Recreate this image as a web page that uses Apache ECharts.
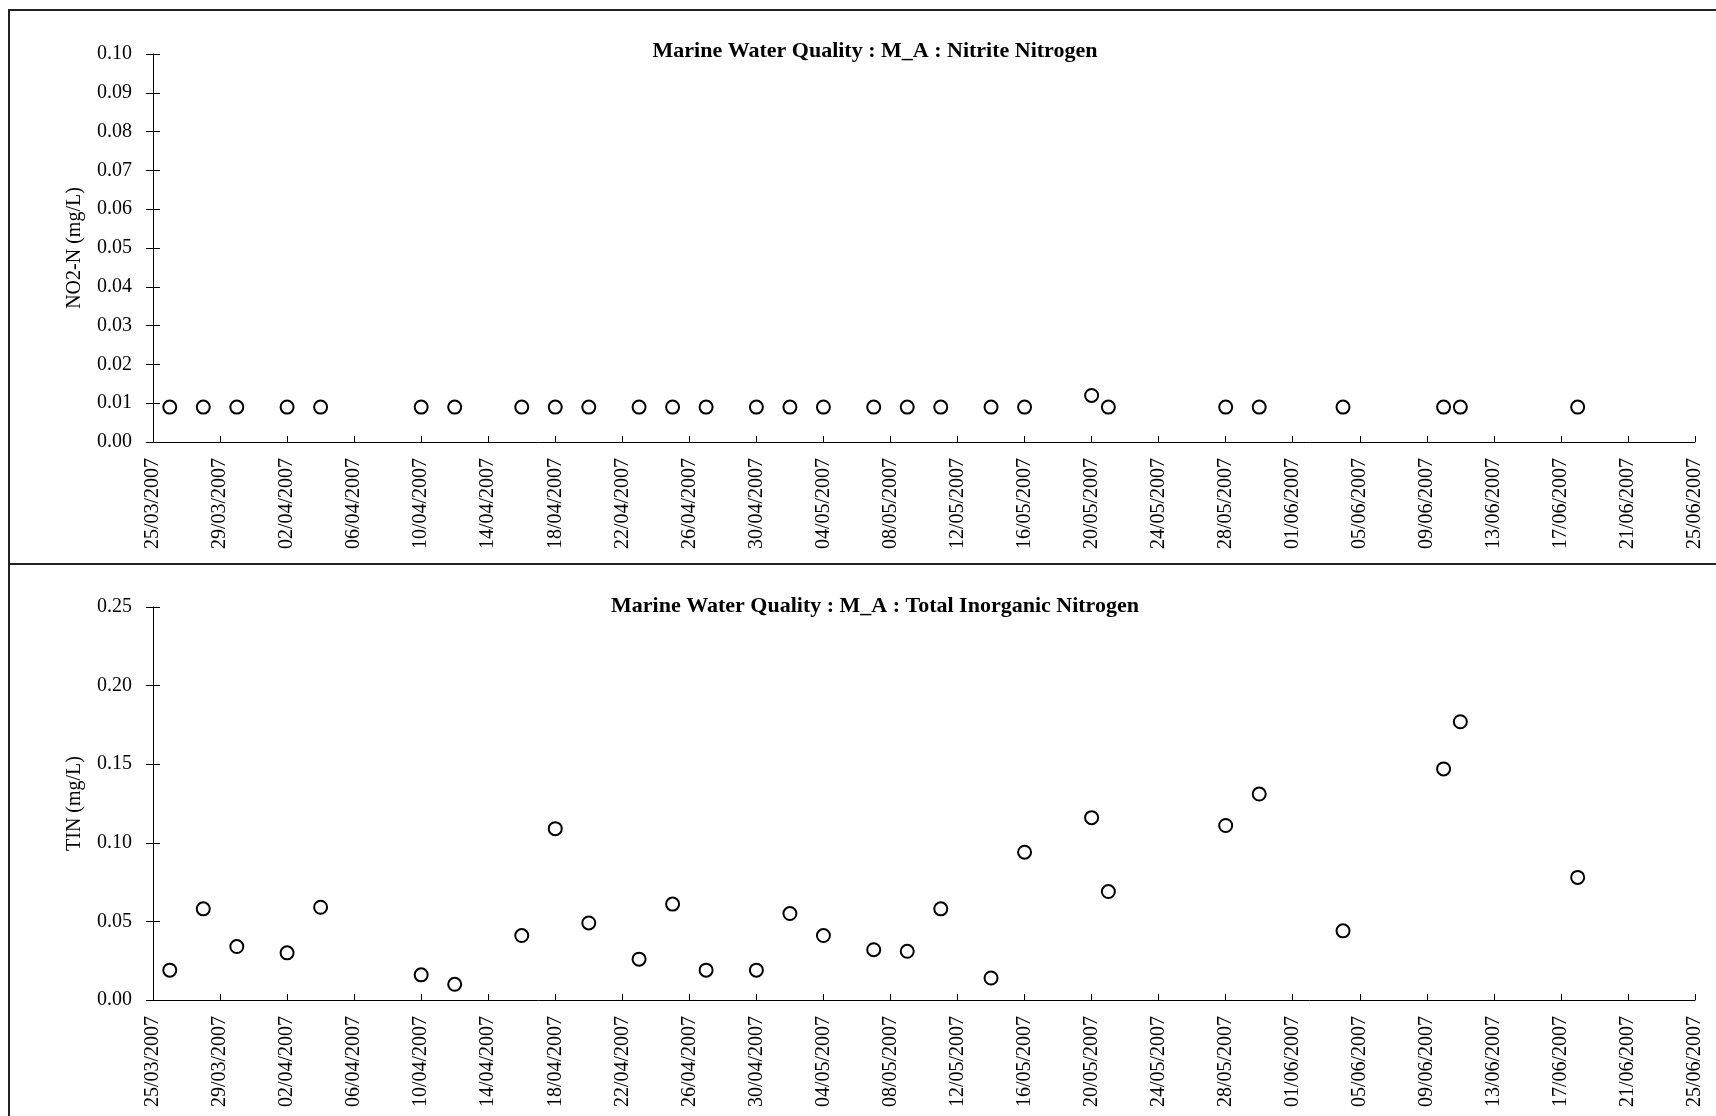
<!DOCTYPE html>
<html>
<head>
<meta charset="utf-8">
<script src="https://cdn.jsdelivr.net/npm/echarts@6/dist/echarts.min.js"></script>
<style>
html,body{margin:0;padding:0;background:#fff;}
#c{width:1716px;height:1116px;}
</style>
</head>
<body>
<div id="c"></div>
<script>
// ---- data ----
const sampleDates = ['2007-03-26','2007-03-28','2007-03-30','2007-04-02','2007-04-04','2007-04-10','2007-04-12','2007-04-16','2007-04-18','2007-04-20','2007-04-23','2007-04-25','2007-04-27','2007-04-30','2007-05-02','2007-05-04','2007-05-07','2007-05-09','2007-05-11','2007-05-14','2007-05-16','2007-05-20','2007-05-21','2007-05-28','2007-05-30','2007-06-04','2007-06-10','2007-06-11','2007-06-18'];
const no2Values = [0.009,0.009,0.009,0.009,0.009,0.009,0.009,0.009,0.009,0.009,0.009,0.009,0.009,0.009,0.009,0.009,0.009,0.009,0.009,0.009,0.009,0.012,0.009,0.009,0.009,0.009,0.009,0.009,0.009];
const tinValues = [0.019,0.058,0.034,0.030,0.059,0.016,0.010,0.041,0.109,0.049,0.026,0.061,0.019,0.019,0.055,0.041,0.032,0.031,0.058,0.014,0.094,0.116,0.069,0.111,0.131,0.044,0.147,0.177,0.078];
const axisStartDate = '2007-03-25';
const axisEndDate = '2007-06-25';
const tickStepDays = 4;
const titles = ['Marine Water Quality : M_A : Nitrite Nitrogen','Marine Water Quality : M_A : Total Inorganic Nitrogen'];
const yNames = ['NO2-N (mg/L)','TIN (mg/L)'];
const yMax = [0.10, 0.25];
const yStep = [0.01, 0.05];

// ---- helpers ----
function utc(s){const p=s.split('-').map(Number);return Date.UTC(p[0],p[1]-1,p[2]);}
const base = utc(axisStartDate);
const DAY = 86400000;
function off(s){return (utc(s)-base)/DAY;}
function fmt(v){const d=new Date(base+Math.round(v)*DAY);const dd=String(d.getUTCDate()).padStart(2,'0');const mm=String(d.getUTCMonth()+1).padStart(2,'0');return dd+'/'+mm+'/'+d.getUTCFullYear();}
const xMax = off(axisEndDate);

const FONT = '"Liberation Serif","Times New Roman",serif';
const grids = [
  {left:153, right:21, top:54, height:388},
  {left:153, right:21, top:607, height:393}
];
const titleCenters = [47, 602];

const xAxes = [], yAxes = [], series = [], titleArr = [];
[no2Values, tinValues].forEach((vals, i) => {
  xAxes.push({
    type:'value', gridIndex:i, min:0, max:xMax, interval:tickStepDays,
    axisLine:{show:true, onZero:false, lineStyle:{color:'#000', width:1}},
    axisTick:{show:true, inside:true, length:6, lineStyle:{color:'#000'}},
    splitLine:{show:false},
    axisLabel:{rotate:90, margin:16, formatter:fmt, color:'#000', fontFamily:FONT, fontSize:20, showMinLabel:true, showMaxLabel:true}
  });
  yAxes.push({
    type:'value', gridIndex:i, min:0, max:yMax[i], interval:yStep[i],
    name:yNames[i], nameLocation:'middle', nameGap:68,
    nameTextStyle:{color:'#000', fontFamily:FONT, fontSize:20},
    axisLine:{show:true, lineStyle:{color:'#000', width:1}},
    axisTick:{show:true, inside:false, length:7, lineStyle:{color:'#000'}},
    splitLine:{show:false},
    axisLabel:{margin:21, formatter:v=>v.toFixed(2), color:'#000', fontFamily:FONT, fontSize:20}
  });
  yAxes.push({
    type:'value', gridIndex:i, min:0, max:yMax[i], interval:yStep[i], position:'left',
    axisLine:{show:false}, axisLabel:{show:false}, splitLine:{show:false},
    axisTick:{show:true, inside:true, length:7, lineStyle:{color:'#000'}}
  });
  series.push({
    type:'scatter', xAxisIndex:i, yAxisIndex:i*2,
    symbol:'circle', symbolSize:13,
    itemStyle:{color:'rgba(0,0,0,0)', borderColor:'#000', borderWidth:2, opacity:1},
    data: sampleDates.map((d,k)=>[off(d), vals[k]])
  });
  titleArr.push({
    text:titles[i], left:870, textAlign:'center', top:titleCenters[i]-12,
    textStyle:{color:'#000', fontFamily:FONT, fontSize:22, fontWeight:'bold'}
  });
});

const chart = echarts.init(document.getElementById('c'), null, {renderer:'canvas'});
chart.setOption({
  backgroundColor:'#fff',
  animation:false,
  title:titleArr,
  grid:grids.map(g=>Object.assign({outerBoundsMode:'none'}, g)),
  xAxis:xAxes, yAxis:yAxes, series:series,
  graphic:[
    {type:'rect', shape:{x:9, y:10, width:1730, height:554}, style:{fill:'none', stroke:'#222', lineWidth:2}, silent:true},
    {type:'rect', shape:{x:9, y:564, width:1730, height:600}, style:{fill:'none', stroke:'#222', lineWidth:2}, silent:true}
  ]
});
</script>
</body>
</html>
